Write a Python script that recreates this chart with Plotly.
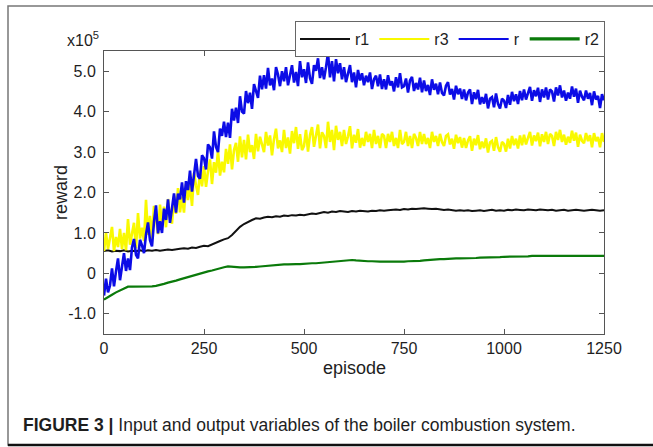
import plotly.graph_objects as go

# ---------------- data (reward in units of 1e5) ----------------
ep_fine = list(range(0, 1251, 5))     # r and r3 sampled every 5 episodes
ep_coarse = list(range(0, 1251, 10))  # r1 and r2 sampled every 10 episodes

r_vals = [
    -0.55, -0.13, -0.47, -0.30, 0.12, -0.32, 0.05, 0.37, -0.17, 0.20,
    0.50, 0.06, 0.37, 0.08, 0.64, 0.85, 0.46, 0.37, 0.83, 0.69,
    0.50, 0.96, 1.26, 0.82, 0.67, 1.28, 1.68, 0.99, 1.29, 1.00,
    1.60, 1.32, 1.83, 1.25, 1.67, 1.98, 1.50, 1.97, 1.83, 2.25,
    1.75, 2.28, 2.06, 2.54, 2.02, 2.50, 2.83, 2.41, 2.34, 2.92,
    2.85, 2.57, 3.19, 3.12, 2.84, 3.51, 3.13, 3.00, 3.58, 3.40,
    3.75, 3.37, 3.73, 3.35, 4.07, 3.78, 4.10, 3.72, 4.38, 4.00,
    3.95, 4.51, 4.21, 4.47, 4.07, 4.68, 4.53, 4.34, 4.89, 4.55,
    4.90, 4.57, 5.08, 4.65, 4.82, 4.53, 5.10, 4.92, 4.63, 5.00,
    4.75, 5.10, 4.65, 4.90, 5.15, 4.72, 4.98, 4.63, 5.25, 4.85,
    5.05, 4.71, 5.22, 4.83, 4.69, 5.15, 5.01, 5.32, 4.83, 5.10,
    4.80, 5.10, 5.45, 4.85, 5.25, 4.75, 5.30, 4.95, 5.20, 4.80,
    5.10, 4.73, 4.97, 5.15, 4.73, 4.97, 4.60, 5.03, 4.77, 4.95,
    4.65, 4.89, 4.73, 4.97, 4.56, 4.80, 4.89, 4.63, 4.92, 4.56,
    4.80, 4.55, 4.90, 4.65, 4.75, 4.50, 4.85, 4.60, 4.95, 4.60,
    4.63, 4.82, 4.47, 4.77, 4.86, 4.51, 4.71, 4.55, 4.84, 4.48,
    4.77, 4.51, 4.66, 4.41, 4.80, 4.54, 4.69, 4.43, 4.72, 4.46,
    4.40, 4.64, 4.73, 4.42, 4.56, 4.30, 4.64, 4.43, 4.57, 4.31,
    4.55, 4.28, 4.47, 4.55, 4.19, 4.48, 4.31, 4.54, 4.18, 4.36,
    4.20, 4.44, 4.08, 4.32, 4.36, 4.11, 4.45, 4.19, 4.08, 4.32,
    4.27, 4.09, 4.41, 4.17, 4.49, 4.26, 4.43, 4.19, 4.51, 4.28,
    4.55, 4.30, 4.46, 4.61, 4.27, 4.53, 4.38, 4.59, 4.24, 4.55,
    4.35, 4.60, 4.30, 4.55, 4.50, 4.25, 4.60, 4.40, 4.65, 4.35,
    4.52, 4.27, 4.47, 4.32, 4.62, 4.37, 4.57, 4.22, 4.52, 4.37,
    4.28, 4.52, 4.32, 4.46, 4.16, 4.50, 4.30, 4.39, 4.09, 4.43,
    4.28,
]

r3_vals = [
    0.55, 1.00, 0.60, 0.85, 1.15, 0.55, 0.90, 0.65, 1.10, 0.60,
    1.00, 0.57, 1.34, 0.71, 0.98, 1.25, 0.62, 1.49, 0.86, 1.13,
    0.80, 1.82, 0.95, 1.42, 0.85, 1.67, 1.35, 0.97, 1.70, 1.17,
    1.65, 1.14, 1.84, 1.38, 1.23, 1.92, 1.47, 2.11, 1.51, 1.90,
    1.50, 2.21, 1.81, 2.22, 1.67, 2.48, 2.18, 1.94, 2.54, 2.15,
    2.65, 2.14, 2.53, 2.82, 2.21, 2.75, 2.49, 3.03, 2.42, 2.76,
    2.50, 3.08, 2.71, 3.19, 2.57, 3.05, 3.23, 2.76, 3.39, 2.87,
    3.30, 2.82, 3.43, 3.00, 3.17, 2.83, 3.45, 3.02, 3.38, 3.15,
    3.00, 3.50, 3.16, 3.41, 2.92, 3.32, 3.58, 3.09, 3.29, 3.00,
    3.55, 3.10, 3.36, 2.96, 3.52, 3.22, 3.62, 3.08, 3.44, 3.05,
    3.15, 3.55, 3.01, 3.42, 3.62, 3.13, 3.38, 3.68, 3.09, 3.49,
    3.40, 3.10, 3.75, 3.25, 3.55, 3.05, 3.65, 3.30, 3.50, 3.15,
    3.55, 3.20, 3.39, 3.64, 3.09, 3.43, 3.23, 3.57, 3.11, 3.35,
    3.15, 3.50, 3.25, 3.45, 3.10, 3.55, 3.20, 3.40, 3.10, 3.45,
    3.40, 3.10, 3.45, 3.25, 3.50, 3.15, 3.35, 3.10, 3.55, 3.20,
    3.25, 3.50, 3.15, 3.40, 3.10, 3.45, 3.35, 3.15, 3.50, 3.20,
    3.45, 3.20, 3.35, 3.10, 3.50, 3.25, 3.40, 3.15, 3.45, 3.25,
    3.15, 3.40, 3.44, 3.19, 3.33, 3.08, 3.43, 3.22, 3.37, 3.11,
    3.35, 3.10, 3.29, 3.39, 3.03, 3.33, 3.17, 3.42, 3.07, 3.26,
    3.10, 3.34, 2.99, 3.24, 3.28, 3.03, 3.37, 3.12, 3.01, 3.25,
    3.20, 3.01, 3.33, 3.09, 3.40, 3.17, 3.33, 3.09, 3.41, 3.17,
    3.43, 3.19, 3.35, 3.50, 3.16, 3.41, 3.27, 3.48, 3.14, 3.44,
    3.25, 3.50, 3.20, 3.45, 3.40, 3.15, 3.50, 3.30, 3.55, 3.25,
    3.43, 3.18, 3.38, 3.23, 3.53, 3.28, 3.48, 3.13, 3.43, 3.28,
    3.22, 3.47, 3.27, 3.42, 3.12, 3.47, 3.27, 3.37, 3.12, 3.47,
    3.25,
]

r1_vals = [
    0.55, 0.57, 0.54, 0.56, 0.55, 0.57, 0.54, 0.56, 0.55, 0.57,
    0.55, 0.57, 0.56, 0.58, 0.56, 0.57, 0.59, 0.58, 0.60, 0.61,
    0.62, 0.61, 0.64, 0.63, 0.66, 0.68, 0.67, 0.72, 0.75, 0.80,
    0.84, 0.87, 0.95, 1.05, 1.15, 1.22, 1.28, 1.32, 1.36, 1.35,
    1.38, 1.40, 1.39, 1.41, 1.40, 1.43, 1.42, 1.44, 1.43, 1.45,
    1.44, 1.46, 1.48, 1.47, 1.50, 1.52, 1.50, 1.53, 1.52, 1.54,
    1.53, 1.52, 1.54, 1.53, 1.55, 1.54, 1.53, 1.55, 1.54, 1.56,
    1.55, 1.56, 1.57, 1.58, 1.57, 1.59, 1.58, 1.60, 1.59, 1.60,
    1.61, 1.60, 1.59, 1.60, 1.58, 1.57, 1.58, 1.56, 1.55, 1.56,
    1.55, 1.56, 1.54, 1.55, 1.56, 1.54, 1.55, 1.57, 1.55, 1.56,
    1.55, 1.57, 1.56, 1.58, 1.57, 1.56, 1.58, 1.57, 1.56, 1.58,
    1.57, 1.56, 1.57, 1.55, 1.56, 1.57, 1.55, 1.56, 1.57, 1.56,
    1.55, 1.56, 1.57, 1.56, 1.55, 1.56,
]

r2_vals = [
    -0.65, -0.60, -0.53, -0.47, -0.42, -0.37, -0.33, -0.33, -0.33, -0.32,
    -0.32, -0.33, -0.32, -0.31, -0.29, -0.26, -0.23, -0.21, -0.18, -0.15,
    -0.12, -0.09, -0.07, -0.04, -0.01, 0.02, 0.05, 0.07, 0.10, 0.13,
    0.15, 0.17, 0.16, 0.16, 0.15, 0.15, 0.15, 0.16, 0.16, 0.17,
    0.18, 0.19, 0.20, 0.20, 0.21, 0.22, 0.22, 0.23, 0.23, 0.23,
    0.24, 0.24, 0.25, 0.25, 0.26, 0.27, 0.28, 0.29, 0.30, 0.30,
    0.31, 0.32, 0.33, 0.32, 0.31, 0.30, 0.30, 0.30, 0.29, 0.29,
    0.29, 0.29, 0.28, 0.29, 0.29, 0.29, 0.30, 0.30, 0.31, 0.31,
    0.32, 0.33, 0.33, 0.34, 0.35, 0.35, 0.36, 0.36, 0.37, 0.37,
    0.37, 0.38, 0.38, 0.38, 0.39, 0.39, 0.39, 0.40, 0.40, 0.40,
    0.41, 0.41, 0.41, 0.42, 0.42, 0.42, 0.42, 0.43, 0.43, 0.43,
    0.43, 0.43, 0.44, 0.43, 0.44, 0.44, 0.43, 0.44, 0.44, 0.43,
    0.44, 0.43, 0.44, 0.44, 0.43, 0.43,
]

series_names = ["r1", "r3", "r", "r2"]
x_ticks = [0, 250, 500, 750, 1000, 1250]
x_ticklabels = ["0", "250", "500", "750", "1000", "1250"]
y_ticks = [-1, 0, 1, 2, 3, 4, 5]
y_ticklabels = ["-1.0", "0", "1.0", "2.0", "3.0", "4.0", "5.0"]

# ---------------- geometry ----------------
W, H = 653, 447
PL, PR, PT, PB = 104, 604, 51, 334  # plot area in pixels


def px_x(px):
    return (px - PL) / (PR - PL)


def px_y(py):
    return (PB - py) / (PB - PT)


FONT = "Liberation Sans, Arial, sans-serif"
TXT = "#1e1e1e"
colors = {"r1": "#111111", "r3": "#f9f900", "r": "#0c0ce6", "r2": "#0a7a0a"}
plot_widths = {"r1": 2.0, "r3": 2.6, "r": 2.6, "r2": 2.2}
legend_widths = {"r1": 2.0, "r3": 2.0, "r": 2.0, "r2": 3.2}
xs = {"r1": ep_coarse, "r3": ep_fine, "r": ep_fine, "r2": ep_coarse}
ys = {"r1": r1_vals, "r3": r3_vals, "r": r_vals, "r2": r2_vals}

fig = go.Figure()
for name in series_names:
    fig.add_trace(go.Scatter(x=xs[name], y=ys[name], name=name, mode="lines",
                             legendgroup=name, showlegend=False,
                             line=dict(color=colors[name], width=plot_widths[name])))
# legend-only entries (thinner sample lines like the reference legend)
for name in series_names:
    fig.add_trace(go.Scatter(x=[None], y=[None], name=name, mode="lines",
                             legendgroup=name, showlegend=True,
                             line=dict(color=colors[name], width=legend_widths[name])))

axis_common = dict(
    showline=True, linecolor="#555555", linewidth=1, mirror="ticks",
    ticks="inside", ticklen=5, tickcolor="#555555", showgrid=False,
    zeroline=False, tickfont=dict(family=FONT, size=16, color=TXT),
)

fig.update_layout(
    width=W, height=H,
    margin=dict(l=PL, r=W - PR, t=PT, b=H - PB, autoexpand=False),
    paper_bgcolor="white", plot_bgcolor="white",
    showlegend=True,
    legend=dict(
        orientation="h", x=px_x(605), xanchor="right", y=px_y(21), yanchor="top",
        bordercolor="#666666", borderwidth=1, bgcolor="white",
        font=dict(family=FONT, size=16, color=TXT),
        itemwidth=50, tracegroupgap=0,
    ),
    xaxis=dict(range=[0, 1250], tickvals=x_ticks, ticktext=x_ticklabels, **axis_common),
    yaxis=dict(range=[-1.5, 5.5], tickvals=y_ticks, ticktext=y_ticklabels,
               ticklabelstandoff=4, **axis_common),
)

fig.add_annotation(text="x10<sup>5</sup>", xref="paper", yref="paper",
                   x=px_x(101), y=px_y(51), xanchor="right", yanchor="bottom",
                   showarrow=False, font=dict(family=FONT, size=16, color=TXT))
fig.add_annotation(text="reward", xref="paper", yref="paper",
                   x=px_x(61), y=px_y(193), xanchor="center", yanchor="middle",
                   textangle=-90, showarrow=False,
                   font=dict(family=FONT, size=18, color=TXT))
fig.add_annotation(text="episode", xref="paper", yref="paper",
                   x=px_x(354), y=px_y(368), xanchor="center", yanchor="middle",
                   showarrow=False, font=dict(family=FONT, size=18, color=TXT))
fig.add_annotation(text="<b>FIGURE 3 |</b> Input and output variables of the boiler combustion system.",
                   xref="paper", yref="paper",
                   x=px_x(21), y=px_y(425), xanchor="left", yanchor="middle",
                   showarrow=False, font=dict(family=FONT, size=17.5, color=TXT))

# outer frame of the figure panel
fig.add_shape(type="rect", xref="paper", yref="paper", layer="below",
              x0=px_x(8), x1=px_x(670), y0=px_y(6), y1=px_y(445),
              line=dict(color="#777777", width=1.5), fillcolor="rgba(0,0,0,0)")
fig.add_shape(type="line", xref="paper", yref="paper",
              x0=px_x(8), x1=px_x(660), y0=px_y(445), y1=px_y(445),
              line=dict(color="#111111", width=2.5))

fig.write_html("out.html", config={"displayModeBar": False},
               post_script="document.body.style.margin='0px';")
